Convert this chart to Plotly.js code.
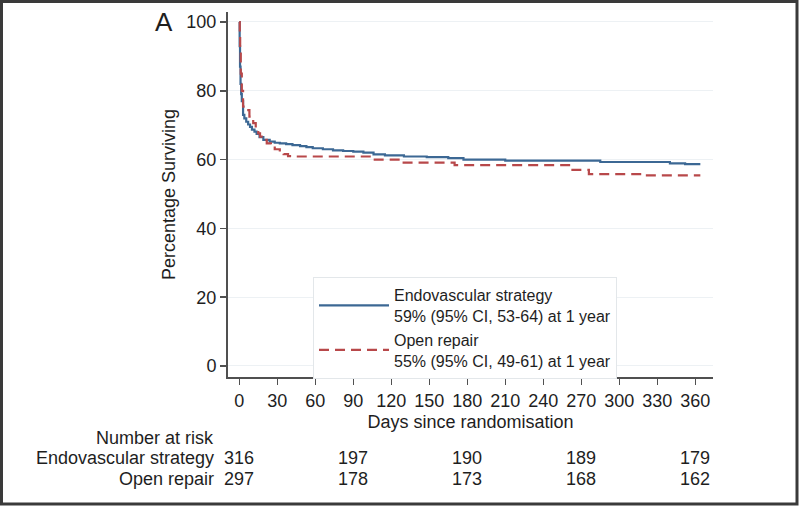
<!DOCTYPE html>
<html>
<head>
<meta charset="utf-8">
<script src="https://cdn.plot.ly/plotly-3.0.1.min.js"></script>
<style>
  html, body { margin: 0; padding: 0; background: #fff; }
  #chart { width: 800px; height: 506px; }
</style>
</head>
<body>
<div id="chart"></div>
<script>
// Kaplan-Meier survival estimates
const endoDays = [0, 0.3, 0.6, 1, 1.5, 2, 3, 4, 5.5, 7, 8.5, 10, 12, 13.7, 16, 19, 24, 28, 32, 37, 42, 48, 53, 58, 66, 74, 82, 90, 98, 106, 115, 130, 148, 165, 177, 210, 285, 340, 352, 364];
const endoSurv = [100, 93, 87, 82, 79, 77, 73, 72, 71, 70.2, 69.5, 68.7, 68.1, 67.5, 66.5, 65.7, 65.2, 64.9, 64.7, 64.5, 64.2, 63.9, 63.6, 63.3, 63.0, 62.7, 62.5, 62.3, 62.0, 61.5, 61.2, 60.9, 60.7, 60.4, 60.0, 59.7, 59.3, 58.9, 58.7, 58.7];

const openDays = [0, 0.4, 0.7, 1.2, 2, 3, 5.8, 8, 11, 13, 15, 16.4, 19, 21.7, 25, 28, 32, 35, 38.5, 42, 106, 128, 170, 262, 276, 320, 364];
const openSurv = [100, 96, 92, 85, 80, 75.4, 74.4, 72.5, 70.6, 68.6, 67.6, 66.7, 65.7, 64.7, 63.8, 63.0, 62.3, 61.6, 61.0, 60.9, 60.0, 59.1, 58.4, 57.0, 55.8, 55.4, 55.4];

const xTicks = [0, 30, 60, 90, 120, 150, 180, 210, 240, 270, 300, 330, 360];
const yTicks = [0, 20, 40, 60, 80, 100];

const seriesNames = ["Endovascular strategy", "Open repair"];
const seriesNotes = ["59% (95% CI, 53-64) at 1 year", "55% (95% CI, 49-61) at 1 year"];

// Number at risk table
const riskDays = [0, 90, 180, 270, 360];
const endoRisk = [316, 197, 190, 189, 179];
const openRisk = [297, 178, 173, 168, 162];

const FONT = "Liberation Sans, Arial, Helvetica, sans-serif";
const TXT = "#1e1e1e";
const AX = "#505050";

const traces = [
  {
    x: endoDays, y: endoSurv, type: "scatter", mode: "lines",
    line: { shape: "hv", color: "#3c6894", width: 2.2 },
    name: seriesNames[0] + "<br>" + seriesNotes[0]
  },
  {
    x: openDays, y: openSurv, type: "scatter", mode: "lines",
    line: { shape: "hv", color: "#b8484a", width: 2.2, dash: "10px,6px" },
    name: seriesNames[1] + "<br>" + seriesNotes[1]
  }
];

const L = 228, R = 87, T = 12, B = 129;
const PW = 800 - L - R, PH = 506 - T - B;
const px = v => (v - L) / PW;           // pixel x -> paper x
const py = v => (506 - B - v) / PH;     // pixel y -> paper y

const annotations = [];
annotations.push({ xref: "paper", yref: "paper", x: px(164), y: py(22), text: "A",
  showarrow: false, xanchor: "center", yanchor: "middle", font: { family: FONT, size: 26, color: TXT } });
annotations.push({ xref: "paper", yref: "paper", x: px(216), y: py(438), text: "Number at risk",
  showarrow: false, xanchor: "right", yanchor: "middle", font: { family: FONT, size: 18, color: TXT } });
annotations.push({ xref: "paper", yref: "paper", x: px(216), y: py(458), text: seriesNames[0],
  showarrow: false, xanchor: "right", yanchor: "middle", font: { family: FONT, size: 18, color: TXT } });
annotations.push({ xref: "paper", yref: "paper", x: px(216), y: py(479), text: seriesNames[1],
  showarrow: false, xanchor: "right", yanchor: "middle", font: { family: FONT, size: 18, color: TXT } });
riskDays.forEach((d, i) => {
  annotations.push({ xref: "x", yref: "paper", x: d, y: py(458), text: String(endoRisk[i]),
    showarrow: false, xanchor: "center", yanchor: "middle", font: { family: FONT, size: 18, color: TXT } });
  annotations.push({ xref: "x", yref: "paper", x: d, y: py(479), text: String(openRisk[i]),
    showarrow: false, xanchor: "center", yanchor: "middle", font: { family: FONT, size: 18, color: TXT } });
});

const layout = {
  width: 800, height: 506,
  margin: { l: L, r: R, t: T, b: B, pad: 0 },
  paper_bgcolor: "#ffffff", plot_bgcolor: "#ffffff",
  font: { family: FONT, size: 18, color: TXT },
  showlegend: true,
  legend: {
    x: px(313), y: py(277), xanchor: "left", yanchor: "top",
    bgcolor: "#ffffff", bordercolor: "#e3e7ea", borderwidth: 1,
    font: { family: FONT, size: 16, color: TXT },
    itemwidth: 70, tracegroupgap: 0, valign: "middle"
  },
  xaxis: {
    range: [-8.9, 374], tickvals: xTicks, ticktext: xTicks.map(String),
    showgrid: false, zeroline: false,
    showline: true, linecolor: AX, linewidth: 2,
    ticks: "outside", ticklen: 6, tickwidth: 1.5, tickcolor: AX,
    tickfont: { family: FONT, size: 18, color: TXT },
    title: { text: "Days since randomisation", font: { family: FONT, size: 18, color: TXT }, standoff: 6 }
  },
  yaxis: {
    range: [-3.2, 102.9], tickvals: yTicks, ticktext: yTicks.map(String),
    showgrid: true, gridcolor: "#edf1f4", gridwidth: 1,
    zeroline: false,
    showline: true, linecolor: AX, linewidth: 2,
    ticks: "outside", ticklen: 6, tickwidth: 1.5, tickcolor: AX,
    tickfont: { family: FONT, size: 18, color: TXT },
    title: { text: "Percentage Surviving", font: { family: FONT, size: 18, color: TXT }, standoff: 6 }
  },
  annotations: annotations,
  shapes: [
    { type: "rect", xref: "paper", yref: "paper",
      x0: px(1.5), x1: px(797), y0: py(1.5), y1: py(504),
      line: { color: "#3a3a3a", width: 3 }, fillcolor: "rgba(0,0,0,0)", layer: "above" }
  ]
};

Plotly.newPlot("chart", traces, layout, { staticPlot: true, displayModeBar: false });
</script>
</body>
</html>
